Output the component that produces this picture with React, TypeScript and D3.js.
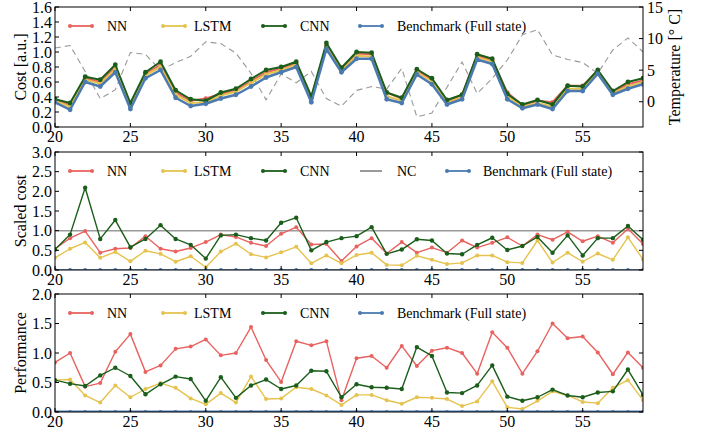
import React from "react";
import * as d3 from "d3";

const hours = d3.range(20, 60);

// Top panel: cost [a.u.]
const costNN = [0.36,0.29,0.65,0.60,0.80,0.29,0.71,0.83,0.46,0.35,0.38,0.44,0.49,0.61,0.73,0.78,0.85,0.38,1.09,0.77,0.98,0.97,0.46,0.38,0.75,0.63,0.34,0.43,0.95,0.89,0.46,0.29,0.35,0.33,0.55,0.55,0.75,0.47,0.57,0.62];
const costLSTM = [0.35,0.27,0.63,0.58,0.77,0.27,0.69,0.80,0.43,0.32,0.33,0.42,0.47,0.59,0.70,0.76,0.83,0.36,1.07,0.75,0.95,0.94,0.41,0.35,0.73,0.61,0.32,0.40,0.93,0.87,0.41,0.27,0.32,0.27,0.51,0.51,0.73,0.45,0.54,0.60];
const costCNN = [0.37,0.32,0.67,0.63,0.83,0.32,0.73,0.87,0.49,0.37,0.35,0.46,0.51,0.64,0.76,0.80,0.87,0.41,1.12,0.79,1.00,0.99,0.46,0.39,0.77,0.65,0.36,0.43,0.97,0.91,0.44,0.30,0.36,0.30,0.55,0.54,0.76,0.48,0.60,0.65];
const costBench = [0.33,0.23,0.60,0.54,0.73,0.24,0.65,0.76,0.39,0.28,0.31,0.38,0.43,0.54,0.66,0.73,0.80,0.33,1.04,0.73,0.91,0.91,0.37,0.32,0.70,0.57,0.30,0.37,0.90,0.84,0.37,0.25,0.30,0.24,0.48,0.48,0.71,0.43,0.51,0.57];
const temperature = [8.5,8.9,4.8,0.5,1.9,7.8,7.5,5.0,6.2,7.2,9.5,9.2,7.7,4.5,0.3,4.4,3.0,4.8,0.5,-0.7,1.8,2.4,2.0,5.3,-2.4,-1.8,2.3,6.3,1.3,3.7,6.6,10.6,11.4,7.4,6.7,6.2,4.5,8.2,10.1,7.9];

// Middle panel: scaled cost
const scaledNN = [0.54,0.81,0.99,0.44,0.54,0.56,0.86,0.54,0.47,0.56,0.71,0.90,0.84,0.69,0.61,0.92,1.09,0.65,0.66,0.23,0.60,0.81,0.42,0.71,0.44,0.57,0.44,0.75,0.57,0.69,0.83,0.61,0.90,0.77,0.97,0.73,0.86,0.69,1.05,0.66];
const scaledLSTM = [0.31,0.54,0.70,0.31,0.46,0.22,0.49,0.41,0.21,0.35,0.07,0.47,0.67,0.40,0.32,0.45,0.59,0.17,0.37,0.17,0.38,0.44,0.13,0.12,0.36,0.26,0.15,0.18,0.37,0.37,0.20,0.18,0.75,0.19,0.44,0.21,0.42,0.26,0.83,0.27];
const scaledCNN = [0.52,0.90,2.09,0.79,1.27,0.58,0.79,1.14,0.79,0.64,0.29,0.88,0.90,0.81,0.75,1.20,1.33,0.50,0.71,0.81,0.86,1.09,0.41,0.52,0.78,0.75,0.42,0.40,0.64,0.82,0.51,0.61,0.84,0.44,0.88,0.37,0.81,0.81,1.12,0.77];
const scaledBench = hours.map(() => 0);
const scaledNC = 1.0;

// Bottom panel: performance
const perfNN = [0.84,1.00,0.43,0.49,1.02,1.32,0.68,0.79,1.07,1.11,1.23,0.96,1.00,1.44,0.88,0.51,1.20,1.13,1.20,0.20,0.91,0.95,0.75,1.12,0.78,1.04,1.09,1.00,0.65,1.35,1.09,0.65,1.03,1.50,1.25,1.28,1.01,0.64,1.01,0.75];
const perfLSTM = [0.54,0.55,0.28,0.16,0.45,0.25,0.39,0.49,0.41,0.23,0.13,0.32,0.16,0.60,0.22,0.23,0.42,0.39,0.28,0.12,0.29,0.29,0.20,0.14,0.25,0.24,0.22,0.10,0.18,0.52,0.08,0.05,0.19,0.35,0.28,0.17,0.15,0.41,0.54,0.20];
const perfCNN = [0.54,0.48,0.44,0.62,0.75,0.61,0.30,0.47,0.60,0.56,0.19,0.59,0.24,0.45,0.55,0.39,0.45,0.70,0.69,0.25,0.47,0.42,0.41,0.39,1.10,0.95,0.33,0.32,0.45,0.79,0.26,0.19,0.25,0.38,0.28,0.25,0.33,0.35,0.72,0.29];
const perfBench = hours.map(() => 0);

const xTicks = [20, 25, 30, 35, 40, 45, 50, 55];
const costTicks = [0, 0.2, 0.4, 0.6, 0.8, 1.0, 1.2, 1.4, 1.6];
const tempTicks = [0, 5, 10, 15];
const scaledTicks = [0, 0.5, 1.0, 1.5, 2.0, 2.5, 3.0];
const perfTicks = [0, 0.5, 1.0, 1.5, 2.0];

const C = {
  NN: "#e8625f",
  LSTM: "#e6c24e",
  CNN: "#1b5e1b",
  Bench: "#4a7ab0",
  NC: "#9a9a9a",
  Temp: "#999999",
};

const FONT = "'Liberation Serif', 'Times New Roman', serif";
const X0 = 55, X1 = 643;
const x = d3.scaleLinear().domain([20, 59]).range([X0, X1]);

type Series = { name: string; values: number[]; color: string; width: number; r: number };

function Panel(props: {
  id: string; top: number; bottom: number; domain: [number, number]; ticks: number[];
  fmt: (v: number) => string; label: string; series: Series[];
  legend: { name: string; color: string; dots: boolean }[];
  legendX: number[]; legendTextX: number[];
  extra?: (y: d3.ScaleLinear<number, number>) => React.ReactNode;
  rightAxis?: React.ReactNode; hasRightTicks?: boolean;
}) {
  const { id, top, bottom, domain, ticks, fmt, label, series } = props;
  const y = d3.scaleLinear().domain(domain).range([bottom, top]);
  const line = d3.line<number>().x((_, i) => x(hours[i])).y((v) => y(v));
  const legY = top + 19;
  return (
    <g>
      <defs>
        <clipPath id={id}>
          <rect x={X0} y={top} width={X1 - X0} height={bottom - top} />
        </clipPath>
      </defs>
      <g clipPath={`url(#${id})`}>
        {props.extra && props.extra(y)}
        {series.map((s) => (
          <g key={s.name}>
            <path d={line(s.values) || ""} fill="none" stroke={s.color} strokeWidth={s.width} strokeLinejoin="round" />
            {s.values.map((v, i) => (
              <circle key={i} cx={x(hours[i])} cy={y(v)} r={s.r} fill={s.color} />
            ))}
          </g>
        ))}
      </g>
      <rect x={X0} y={top} width={X1 - X0} height={bottom - top} fill="none" stroke="#000" strokeWidth={1} />
      {xTicks.map((t) => (
        <g key={t}>
          <line x1={x(t)} x2={x(t)} y1={bottom} y2={bottom - 4} stroke="#000" />
          <line x1={x(t)} x2={x(t)} y1={top} y2={top + 4} stroke="#000" />
          <text x={x(t)} y={bottom + 15} textAnchor="middle" fontSize={16} fontFamily={FONT}>{t}</text>
        </g>
      ))}
      {ticks.map((t) => (
        <g key={t}>
          <line x1={X0} x2={X0 + 4} y1={y(t)} y2={y(t)} stroke="#000" />
          {props.hasRightTicks && <line x1={X1} x2={X1 - 4} y1={y(t)} y2={y(t)} stroke="#000" />}
          <text x={X0 - 3} y={y(t)} dy="0.35em" textAnchor="end" fontSize={16} fontFamily={FONT}>{fmt(t)}</text>
        </g>
      ))}
      <text transform={`translate(20,${(top + bottom) / 2}) rotate(-90)`} textAnchor="middle" fontSize={16} fontFamily={FONT} dy="0.35em">{label}</text>
      {props.rightAxis}
      {props.legend.map((l, i) => (
        <g key={l.name}>
          <line x1={props.legendX[i]} x2={props.legendX[i] + 22} y1={legY} y2={legY} stroke={l.color} strokeWidth={l.dots ? 1.8 : 2} />
          {l.dots && <circle cx={props.legendX[i]} cy={legY} r={2} fill={l.color} />}
          {l.dots && <circle cx={props.legendX[i] + 22} cy={legY} r={2} fill={l.color} />}
          <text x={props.legendTextX[i]} y={legY} dy="0.35em" fontSize={14} fontFamily={FONT}>{l.name}</text>
        </g>
      ))}
    </g>
  );
}

export default function App() {
  const top = { t: 7, b: 127 };
  const tempY = d3.scaleLinear().domain([-4, 15]).range([top.b, top.t]);
  const tempLine = d3.line<number>().x((_, i) => x(hours[i])).y((v) => tempY(v));

  const legend4 = [
    { name: "NN", color: C.NN, dots: true },
    { name: "LSTM", color: C.LSTM, dots: true },
    { name: "CNN", color: C.CNN, dots: true },
    { name: "Benchmark (Full state)", color: C.Bench, dots: true },
  ];
  const legend5 = [
    { name: "NN", color: C.NN, dots: true },
    { name: "LSTM", color: C.LSTM, dots: true },
    { name: "CNN", color: C.CNN, dots: true },
    { name: "NC", color: C.NC, dots: false },
    { name: "Benchmark (Full state)", color: C.Bench, dots: true },
  ];

  return (
    <svg width={701} height={439} style={{ display: "block", position: "absolute", left: 0, top: 0, background: "#fff" }}>
      <rect width={701} height={439} fill="#fff" />
      <Panel
        id="clipTop" top={top.t} bottom={top.b} domain={[0, 1.6]} ticks={costTicks}
        fmt={(v) => v.toFixed(1)} label="Cost [a.u.]"
        series={[
          { name: "NN", values: costNN, color: C.NN, width: 2, r: 2.2 },
          { name: "LSTM", values: costLSTM, color: C.LSTM, width: 2, r: 2.2 },
          { name: "CNN", values: costCNN, color: C.CNN, width: 2, r: 2.4 },
          { name: "Bench", values: costBench, color: C.Bench, width: 2.5, r: 2.4 },
        ]}
        legend={legend4} legendX={[70, 163, 263, 360]} legendTextX={[107, 194, 300, 397]}
        extra={() => (
          <path d={tempLine(temperature) || ""} fill="none" stroke={C.Temp} strokeWidth={1.1} strokeDasharray="6,4" />
        )}
        rightAxis={
          <g>
            {tempTicks.map((t) => (
              <g key={t}>
                <line x1={X1} x2={X1 - 4} y1={tempY(t)} y2={tempY(t)} stroke="#000" />
                <text x={X1 + 4} y={tempY(t)} dy="0.35em" fontSize={16} fontFamily={FONT}>{t}</text>
              </g>
            ))}
            <text transform={`translate(674,${(top.t + top.b) / 2}) rotate(-90)`} textAnchor="middle" dy="0.35em" fontSize={16} fontFamily={FONT}>Temperature [° C]</text>
          </g>
        }
      />
      <Panel
        id="clipMid" top={152} bottom={270} domain={[0, 3]} ticks={scaledTicks}
        fmt={(v) => v.toFixed(1)} label="Scaled cost" hasRightTicks
        series={[
          { name: "NN", values: scaledNN, color: C.NN, width: 1.4, r: 2 },
          { name: "LSTM", values: scaledLSTM, color: C.LSTM, width: 1.4, r: 2 },
          { name: "CNN", values: scaledCNN, color: C.CNN, width: 1.4, r: 2.2 },
          { name: "Bench", values: scaledBench, color: C.Bench, width: 1.4, r: 2 },
        ]}
        legend={legend5} legendX={[70, 163, 263, 360, 447]} legendTextX={[107, 194, 300, 397, 483]}
        extra={(y) => (
          <line x1={X0} x2={X1} y1={y(scaledNC)} y2={y(scaledNC)} stroke={C.NC} strokeWidth={1.5} />
        )}
      />
      <Panel
        id="clipBot" top={294} bottom={412} domain={[0, 2]} ticks={perfTicks}
        fmt={(v) => v.toFixed(1)} label="Performance" hasRightTicks
        series={[
          { name: "NN", values: perfNN, color: C.NN, width: 1.4, r: 2 },
          { name: "LSTM", values: perfLSTM, color: C.LSTM, width: 1.4, r: 2 },
          { name: "CNN", values: perfCNN, color: C.CNN, width: 1.4, r: 2.2 },
          { name: "Bench", values: perfBench, color: C.Bench, width: 3, r: 2 },
        ]}
        legend={legend4} legendX={[70, 163, 263, 360]} legendTextX={[107, 194, 300, 397]}
      />
    </svg>
  );
}
